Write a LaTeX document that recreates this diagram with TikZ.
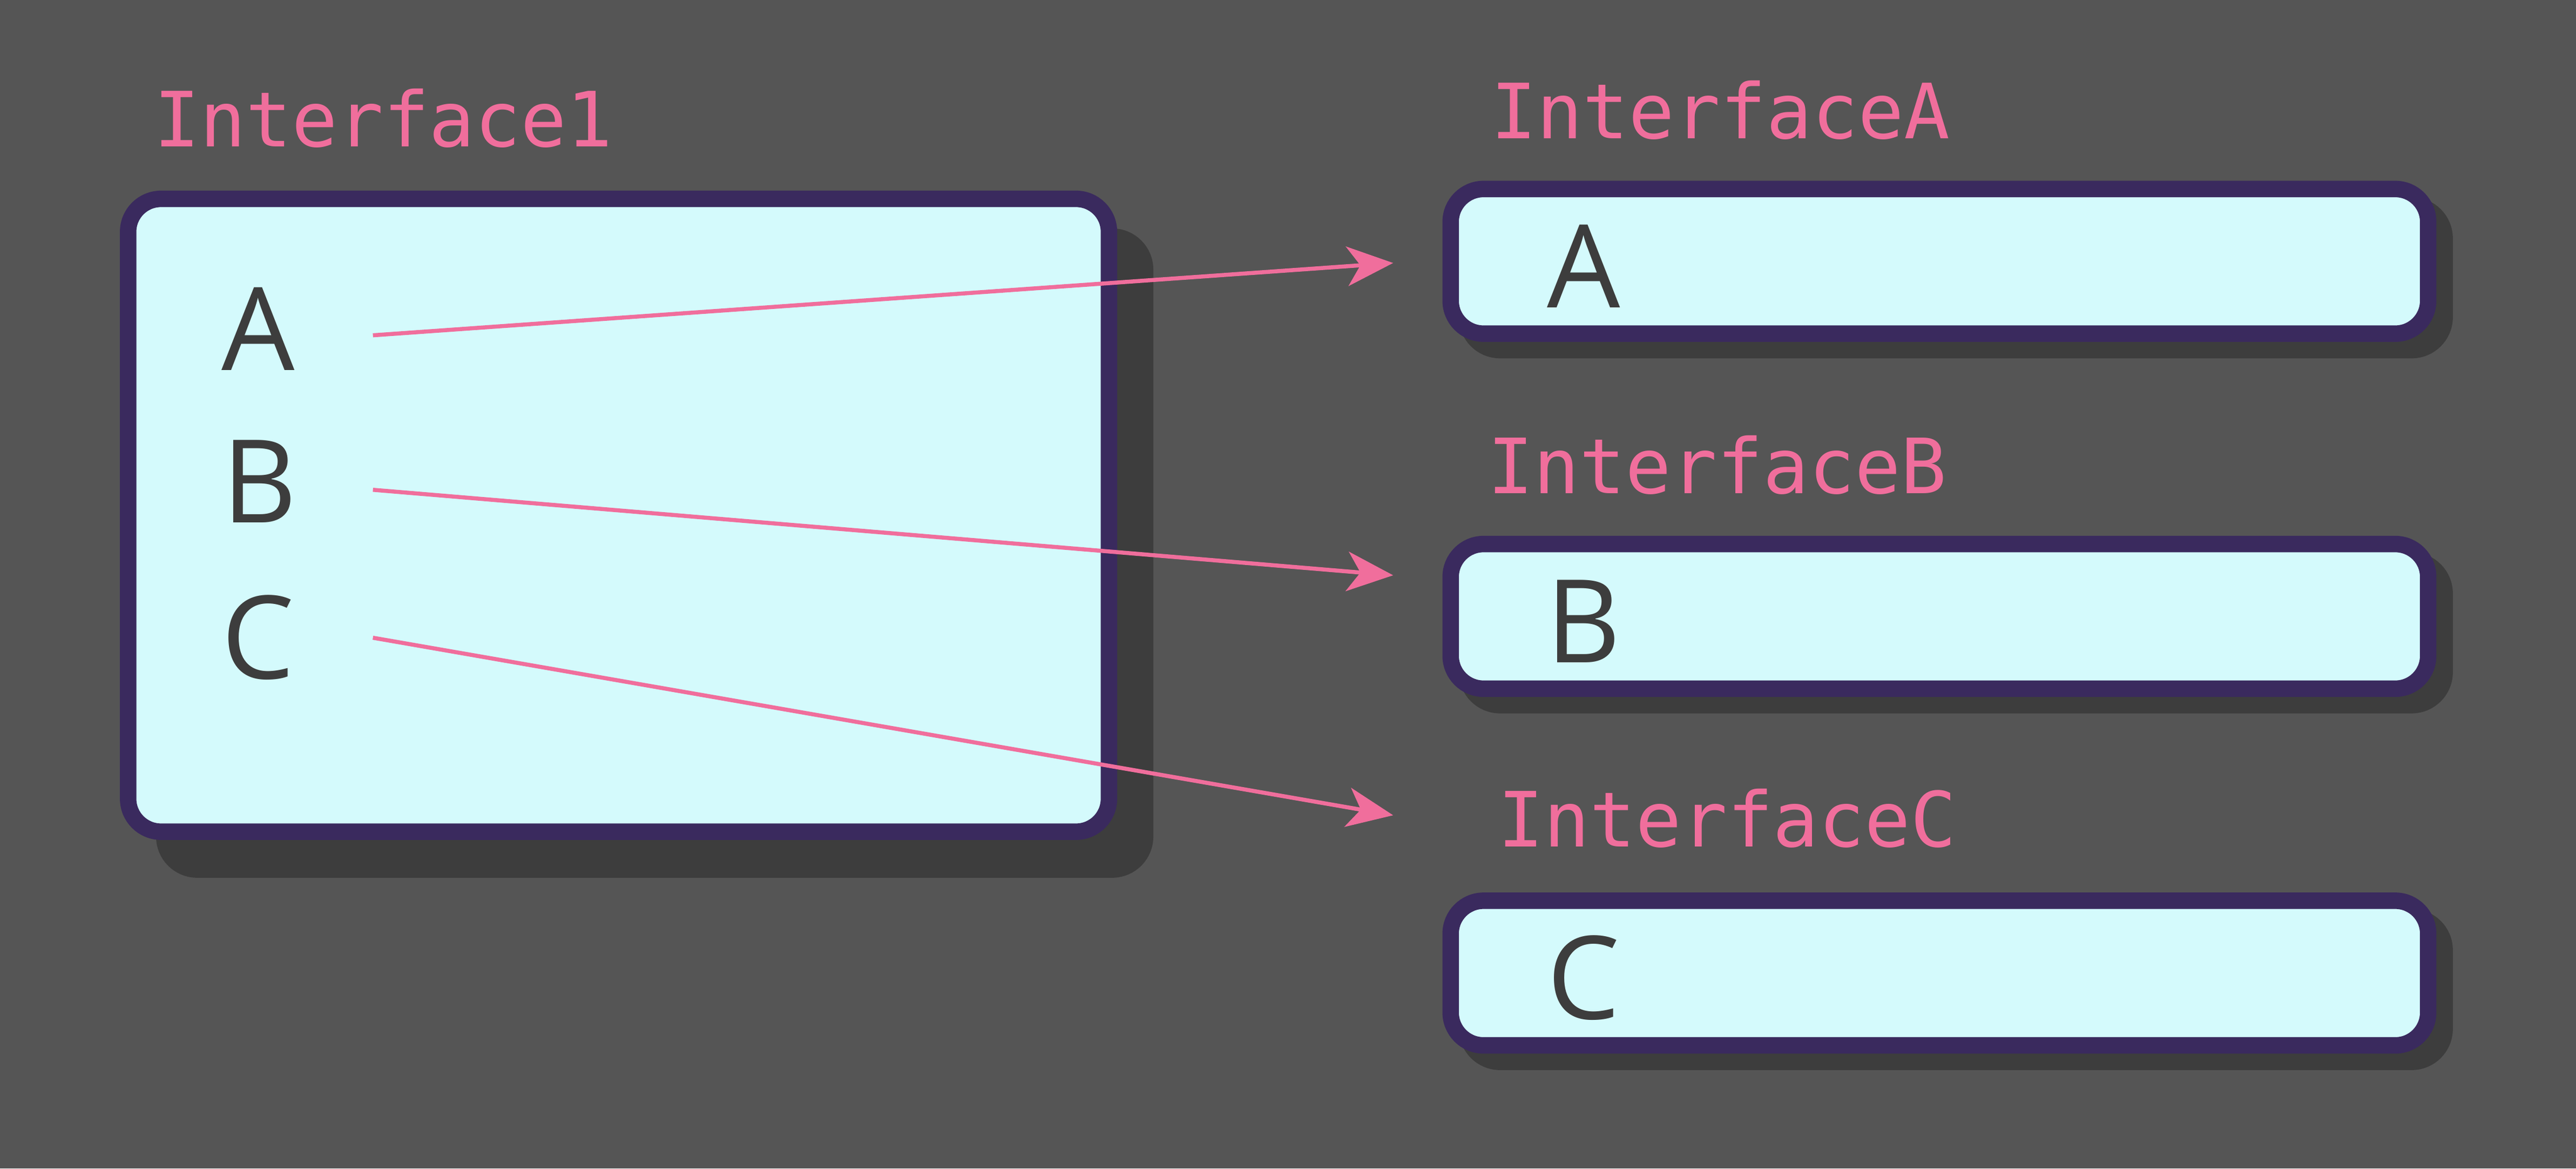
\documentclass[tikz,border=0pt]{standalone}
\usepackage{fontspec}
\setmainfont{Open Sans}
\newfontfamily\codefont{DejaVu Sans Mono}
\usetikzlibrary{arrows.meta}
\definecolor{bgc}{HTML}{555555}
\definecolor{shc}{HTML}{3D3D3D}
\definecolor{brd}{HTML}{3A2A5E}
\definecolor{fil}{HTML}{D4FAFC}
\definecolor{pnk}{HTML}{F06E9C}
\definecolor{txt}{HTML}{3D3D3D}
\tikzset{
 boxs/.style={draw=brd,fill=fil,line width=2.85pt,rounded corners=0.2cm,inner sep=0pt},
 shad/.style={draw=shc,fill=shc,line width=2.85pt,rounded corners=0.2cm,inner sep=0pt},
 lbl/.style={text=pnk,font=\codefont\fontsize{13.2pt}{15pt}\selectfont,anchor=west,inner sep=0pt},
 let/.style={text=txt,font=\fontsize{20pt}{24pt}\selectfont,inner sep=0pt},
 arr/.style={draw=pnk,line width=0.7pt,-{Stealth[length=0.28cm,width=0.24cm,inset=0.08cm]}}
}
\begin{document}
\begin{tikzpicture}
\fill[bgc] (0,0) rectangle (15.68,-7.11);
\useasboundingbox (0,0) rectangle (15.68,-7.11);
% big box
\node[shad,minimum width=5.97cm,minimum height=3.85cm] (s1) at (3.985,-3.365) {};
\node[boxs,minimum width=5.97cm,minimum height=3.85cm] (b1) at (3.765,-3.135) {};
\node[lbl] (l1) at (0.93,-0.72) {Interface1};
\node[let] (a1) at (1.57,-2.00) {A};
\node[let] (b1l) at (1.58,-2.93) {B};
\node[let] (c1) at (1.57,-3.88) {C};
% right boxes
\foreach \n/\y/\t/\lx in {A/1.59/A/9.07, B/3.75/B/9.05, C/5.92/C/9.11}{
  \node[shad,minimum width=5.95cm,minimum height=0.88cm] (s\n) at (11.905,-\y-0.1) {};
  \node[boxs,minimum width=5.95cm,minimum height=0.88cm] (r\n) at (11.805,-\y) {};
  \node[let] (t\n) at (9.64,-\y-0.03) {\t};
}
\node[lbl] (lA) at (9.07,-0.67) {InterfaceA};
\node[lbl] (lB) at (9.05,-2.83) {InterfaceB};
\node[lbl] (lC) at (9.11,-4.98) {InterfaceC};
\coordinate (sa) at (2.27,-2.04); \coordinate (ea) at (8.48,-1.60);
\coordinate (sb) at (2.27,-2.98); \coordinate (eb) at (8.48,-3.50);
\coordinate (sc) at (2.27,-3.88); \coordinate (ec) at (8.48,-4.96);
\draw[arr] (sa) -- (ea);
\draw[arr] (sb) -- (eb);
\draw[arr] (sc) -- (ec);
\end{tikzpicture}
\end{document}
